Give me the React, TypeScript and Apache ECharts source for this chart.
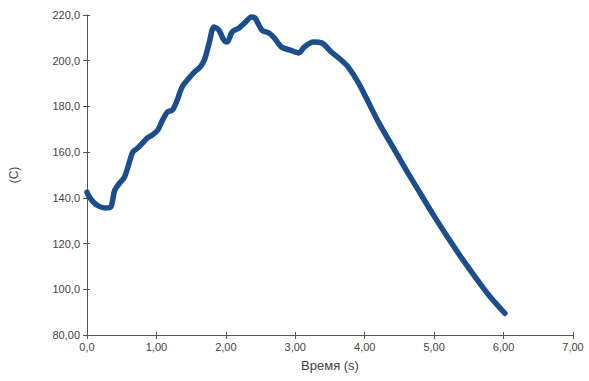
import React, { useEffect, useRef } from "react";
import * as echarts from "echarts";

const timeS: number[] = [
  0.0, 0.02, 0.09, 0.17, 0.26, 0.34, 0.37, 0.4, 0.47, 0.54, 0.62, 0.66, 0.73, 0.8, 0.87, 0.94,
  1.02, 1.09, 1.16, 1.23, 1.3, 1.37, 1.47, 1.55, 1.63, 1.69, 1.76, 1.83, 1.9, 1.97, 2.02,
  2.09, 2.19, 2.27, 2.37, 2.42, 2.52, 2.62, 2.7, 2.8, 2.92, 3.05, 3.13, 3.26, 3.38, 3.52,
  3.66, 3.76, 3.91, 4.05, 4.2, 4.4, 4.6, 4.8, 5.0, 5.2, 5.4, 5.6, 5.8, 6.02,
];
const tempC: number[] = [
  142.5, 141.0, 138.2, 136.4, 135.6, 136.0, 139.1, 143.4, 146.5, 149.1, 156.6, 160.1, 161.8, 164.0, 166.2, 167.5,
  169.7, 174.1, 177.6, 178.4, 182.8, 188.5, 192.4, 195.1, 197.3, 200.3, 207.8, 214.8, 213.4, 209.1, 208.2,
  212.6, 214.3, 216.5, 219.1, 218.7, 213.4, 212.1, 209.9, 206.0, 204.7, 203.4, 206.0, 208.2, 207.8, 203.8,
  200.3, 197.3, 190.3, 182.0, 173.0, 162.5, 152.0, 142.0, 132.0, 122.5, 113.5, 105.0, 97.0, 89.5,
];
const yTickLabels: string[] = ["80,00", "100,0", "120,0", "140,0", "160,0", "180,0", "200,0", "220,0"];
const xTickLabels: string[] = ["0,0", "1,00", "2,00", "3,00", "4,00", "5,00", "6,00", "7,00"];

export default function App() {
  const ref = useRef<HTMLDivElement>(null);
  useEffect(() => {
    if (!ref.current) return;
    const chart = echarts.init(ref.current, undefined, { renderer: "svg" });
    const font = "'Liberation Sans', Arial, sans-serif";
    const axisColor = "#555";
    const labelColor = "#444";
    const data = timeS.map((t, i) => [t, tempC[i]]);
    chart.setOption({
      animation: false,
      backgroundColor: "#fff",
      grid: { left: 84, right: 16, top: 15, bottom: 46 },
      xAxis: [
        {
          type: "value",
          min: 0,
          max: 7,
          interval: 1,
          name: "Время (s)",
          nameLocation: "middle",
          nameGap: 24,
          nameTextStyle: { fontFamily: font, fontSize: 13, color: labelColor },
          axisLine: { show: true, lineStyle: { color: axisColor, width: 1 } },
          axisTick: { show: true, inside: false, length: 4, lineStyle: { color: axisColor } },
          axisLabel: {
            fontFamily: font,
            fontSize: 11,
            color: labelColor,
            margin: 6,
            formatter: (v: number) => xTickLabels[Math.round(v)] ?? "",
          },
          splitLine: { show: false },
        },
        {
          type: "value",
          position: "bottom",
          min: 0,
          max: 7,
          interval: 1,
          axisLine: { show: false },
          axisTick: { show: true, inside: true, length: 3, lineStyle: { color: axisColor } },
          axisLabel: { show: false },
          splitLine: { show: false },
        },
      ],
      yAxis: [
        {
          type: "value",
          min: 80,
          max: 220,
          interval: 20,
          name: "(C)",
          nameLocation: "middle",
          nameGap: 67,
          nameRotate: 90,
          nameTextStyle: { fontFamily: font, fontSize: 12, color: labelColor },
          axisLine: { show: true, lineStyle: { color: axisColor, width: 1 } },
          axisTick: { show: true, inside: false, length: 4, lineStyle: { color: axisColor } },
          axisLabel: {
            fontFamily: font,
            fontSize: 11,
            color: labelColor,
            margin: 7,
            formatter: (v: number) => yTickLabels[Math.round((v - 80) / 20)] ?? "",
          },
          splitLine: { show: false },
        },
        {
          type: "value",
          position: "left",
          min: 80,
          max: 220,
          interval: 20,
          axisLine: { show: false },
          axisTick: { show: true, inside: true, length: 3, lineStyle: { color: axisColor } },
          axisLabel: { show: false },
          splitLine: { show: false },
        },
      ],
      series: [
        {
          type: "line",
          data,
          showSymbol: false,
          smooth: 0.3,
          lineStyle: { color: "#1d4e8c", width: 5.5, cap: "round", join: "round" },
          itemStyle: { color: "#1d4e8c" },
        },
      ],
    });
    return () => chart.dispose();
  }, []);
  return <div ref={ref} style={{ width: 589, height: 381, position: "absolute", left: 0, top: 0 }} />;
}
